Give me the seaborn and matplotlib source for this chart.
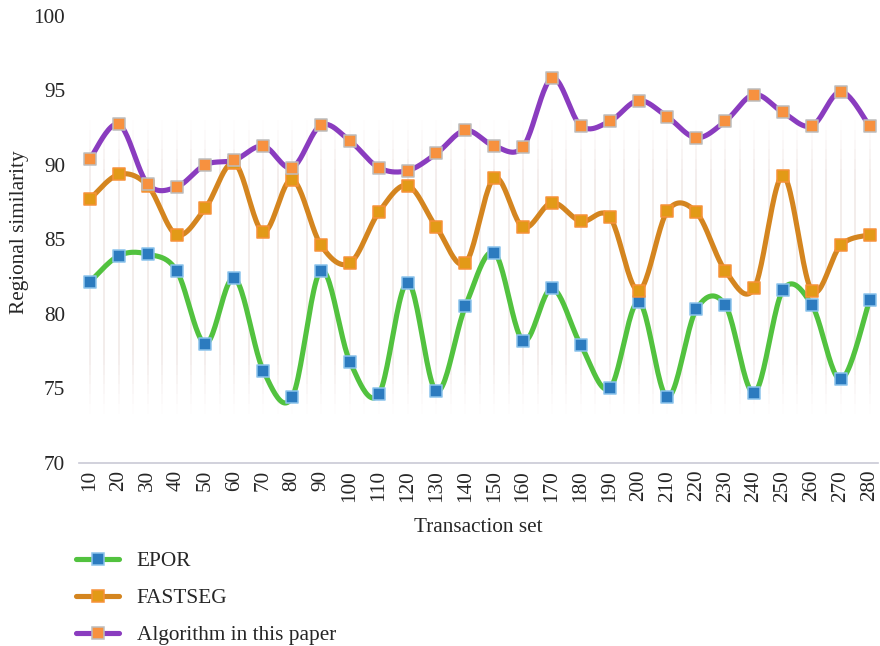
import numpy as np
import pandas as pd
import matplotlib
matplotlib.use("Agg")
import matplotlib.pyplot as plt
from matplotlib.lines import Line2D
import seaborn as sns

categories = [10, 20, 30, 40, 50, 60, 70, 80, 90, 100, 110, 120, 130, 140,
              150, 160, 170, 180, 190, 200, 210, 220, 230, 240, 250, 260, 270, 280]
epor = [82.15, 83.9, 84.0, 82.9, 78.0, 82.4, 76.2, 74.4, 82.9, 76.8, 74.6, 82.1, 74.8, 80.5,
        84.1, 78.2, 81.7, 77.9, 75.0, 80.8, 74.4, 80.3, 80.6, 74.7, 81.6, 80.6, 75.6, 80.9]
fastseg = [87.7, 89.35, 88.6, 85.3, 87.1, 90.1, 85.5, 89.0, 84.6, 83.4, 86.8, 88.6, 85.8, 83.4,
           89.1, 85.8, 87.45, 86.2, 86.5, 81.55, 86.9, 86.8, 82.9, 81.7, 89.25, 81.55, 84.6, 85.3]
ours = [90.4, 92.7, 88.7, 88.5, 90.0, 90.3, 91.25, 89.8, 92.65, 91.6, 89.8, 89.6, 90.75, 92.3,
        91.25, 91.2, 95.8, 92.6, 92.9, 94.3, 93.2, 91.8, 92.9, 94.7, 93.5, 92.6, 94.9, 92.6]
series_names = ["EPOR", "FASTSEG", "Algorithm in this paper"]
y_ticks = [70, 75, 80, 85, 90, 95, 100]

line_colors = ["#52c23f", "#d4851f", "#8a3cbf"]
marker_faces = ["#2c7bbf", "#e29a17", "#f7913f"]
marker_edges = ["#8cc3ec", "#f7923a", "#bdbdbd"]

sns.set_style("white")
plt.rcParams["font.family"] = ["Liberation Serif", "DejaVu Serif"]
FS = 15.3


def catmull_rom(y, n=24, tension=0.5):
    y = np.asarray(y, dtype=float)
    x = np.arange(len(y), dtype=float)
    px = np.concatenate([[x[0]], x, [x[-1]]])
    py = np.concatenate([[y[0]], y, [y[-1]]])
    xs, ys = [], []
    t = np.linspace(0, 1, n, endpoint=False)
    for i in range(1, len(px) - 2):
        p0, p1, p2, p3 = py[i - 1], py[i], py[i + 1], py[i + 2]
        q0, q1, q2, q3 = px[i - 1], px[i], px[i + 1], px[i + 2]
        c1y = p1 + (p2 - p0) * tension / 3
        c2y = p2 - (p3 - p1) * tension / 3
        c1x = q1 + (q2 - q0) * tension / 3
        c2x = q2 - (q3 - q1) * tension / 3
        bx = (1 - t) ** 3 * q1 + 3 * (1 - t) ** 2 * t * c1x + 3 * (1 - t) * t ** 2 * c2x + t ** 3 * q2
        by = (1 - t) ** 3 * p1 + 3 * (1 - t) ** 2 * t * c1y + 3 * (1 - t) * t ** 2 * c2y + t ** 3 * p2
        xs.append(bx)
        ys.append(by)
    xs.append([x[-1]])
    ys.append([y[-1]])
    return np.concatenate(xs), np.concatenate(ys)


fig = plt.figure(figsize=(8.8, 6.46), dpi=100)
ax = fig.add_axes([0.0898, 0.2833, 0.9082, 0.6927])

# faint vertical decoration lines with fade at both ends
y_lo, y_hi = 73.3, 93.0
nseg = 30
edges = np.linspace(y_lo, y_hi, nseg + 1)
for k in range(-1, 2 * len(categories) + 1):
    xv = k * 0.5
    for j in range(nseg):
        mid = (j + 0.5) / nseg
        a = min(1.0, min(mid, 1 - mid) / 0.2)
        ax.plot([xv, xv], [edges[j], edges[j + 1]], color="#e8dcd9", lw=1.2,
                alpha=0.6 * a, solid_capstyle="butt", zorder=1)

data_series = [epor, fastseg, ours]
idx = np.arange(len(categories))
for vals, name, lc, mf, me in zip(data_series, series_names, line_colors, marker_faces, marker_edges):
    sx, sy = catmull_rom(vals)
    sm = pd.DataFrame({"x": sx, "y": sy})
    sns.lineplot(data=sm, x="x", y="y", ax=ax, color=lc, linewidth=3.7,
                 sort=False, estimator=None, zorder=3)
    pts = pd.DataFrame({"x": idx, "y": vals})
    sns.scatterplot(data=pts, x="x", y="y", ax=ax, marker="s", s=82,
                    color=mf, edgecolor=me, linewidth=1.1, zorder=4)

ax.set_xlim(-0.38, 27.3)
ax.set_ylim(70, 100)
ax.set_yticks(y_ticks)
ax.set_yticklabels([str(v) for v in y_ticks], fontsize=FS)
ax.set_xticks(idx)
ax.set_xticklabels([str(c) for c in categories], rotation=90, fontsize=FS)
ax.tick_params(axis="y", length=0, pad=10)
ax.tick_params(axis="x", length=0, pad=5)

for s in ["top", "right", "left"]:
    ax.spines[s].set_visible(False)
ax.spines["bottom"].set_color("#c9c9d6")
ax.spines["bottom"].set_linewidth(1.2)

ax.set_xlabel("Transaction set", fontsize=FS, labelpad=12)
ax.set_ylabel("Regional similarity", fontsize=FS)
ax.yaxis.set_label_coords(-0.062, 0.515)

handles = []
for lc, mf, me in zip(line_colors, marker_faces, marker_edges):
    handles.append(Line2D([0], [0], color=lc, lw=3.7, marker="s", markersize=9,
                          markerfacecolor=mf, markeredgecolor=me, markeredgewidth=1.1))
leg = fig.legend(handles, series_names, loc="upper left", bbox_to_anchor=(0.077, 0.16),
                 frameon=False, fontsize=FS, handlelength=2.0, labelspacing=0.81,
                 handletextpad=0.85, borderaxespad=0)

fig.savefig("out.png", dpi=100)
